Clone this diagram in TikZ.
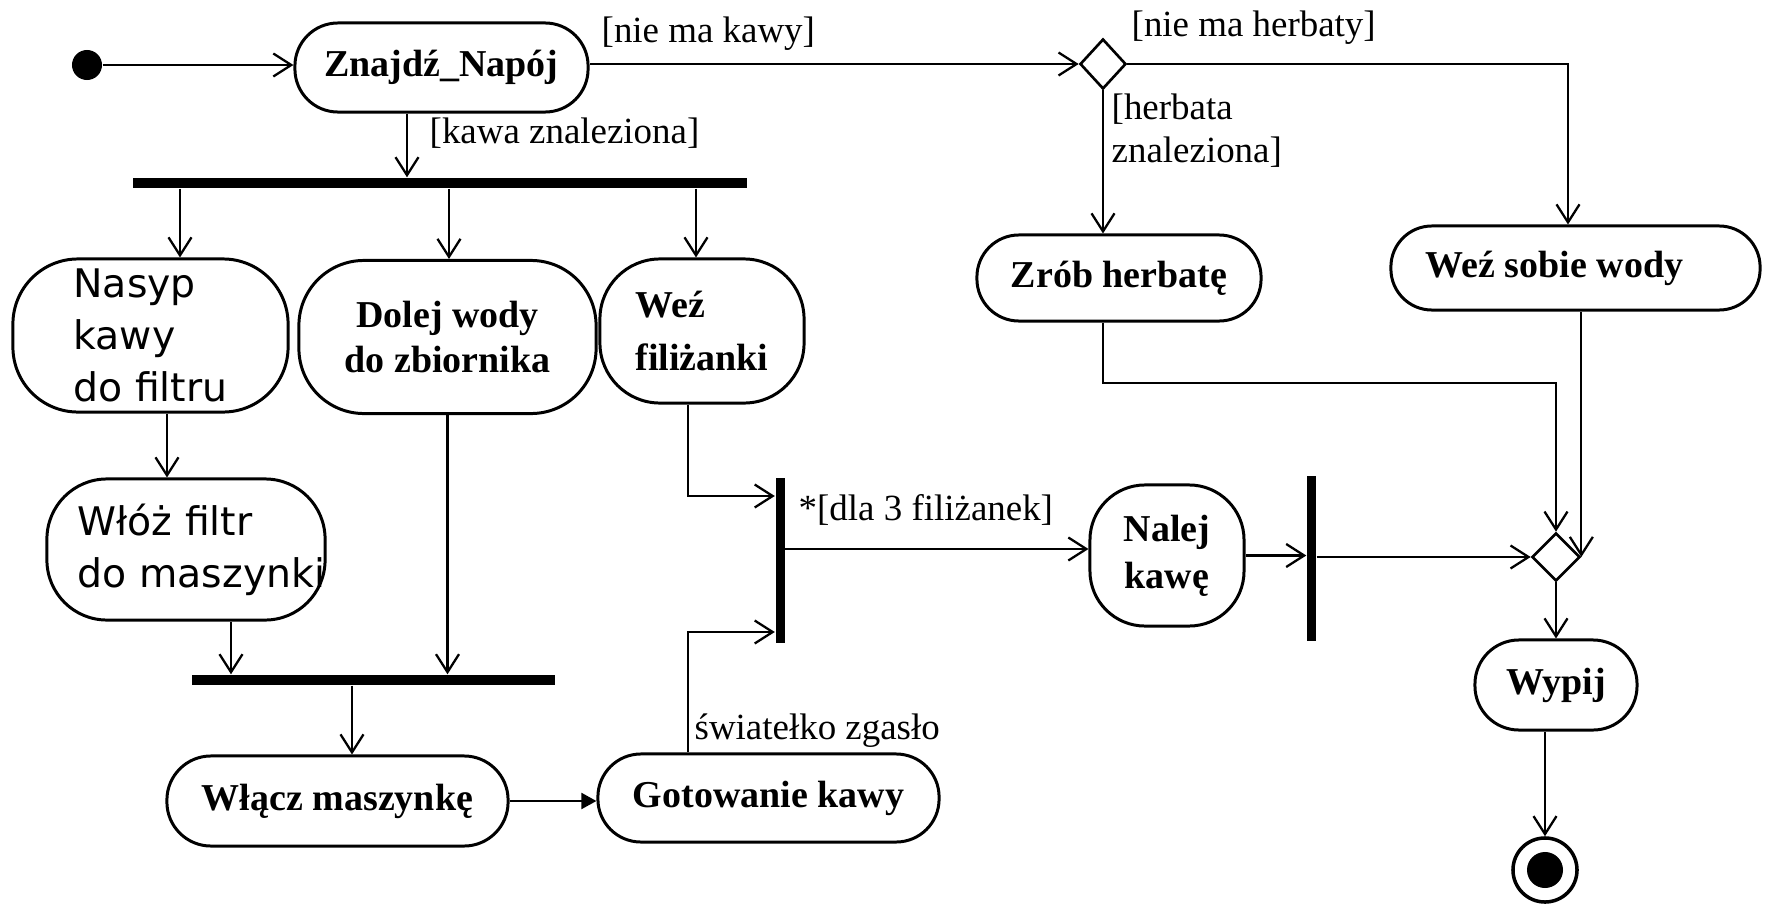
\documentclass[tikz,border=0pt]{standalone}
\usepackage{fontspec}
\setmainfont{Liberation Serif}
\newfontfamily\sansfont{DejaVu Sans}
\usetikzlibrary{arrows.meta,shapes.geometric}

\begin{document}
\begin{tikzpicture}[x=0.01cm,y=-0.01cm,
  act/.style={draw, line width=0.85pt, align=center, inner sep=0pt,
    font=\fontsize{10.8}{13}\selectfont\bfseries},
  sansact/.style={act, align=left, font=\sansfont\fontsize{11.2}{14.8}\selectfont},
  sanstext/.style={inner sep=0pt, align=left, font=\sansfont\fontsize{11.2}{14.8}\selectfont},
  guard/.style={inner sep=0pt, align=left, font=\fontsize{10.5}{12.2}\selectfont},
  bar/.style={fill=black, inner sep=0pt},
  decision/.style={draw, diamond, line width=0.75pt, inner sep=0pt},
  arr/.style={line width=0.6pt,
    -{Straight Barb[length=1.8mm,width=2.3mm,line width=0.65pt]}},
  farr/.style={line width=0.6pt, -{Triangle[length=1.5mm,width=1.6mm]}},
]
\useasboundingbox (0,0) rectangle (1769,909);

% start and end
\node[circle, fill=black, minimum size=0.3cm, inner sep=0pt] (start) at (87,65) {};
\node[circle, draw, line width=1pt, minimum size=0.64cm, inner sep=0pt] (end) at (1545,870) {};
\node[circle, fill=black, minimum size=0.36cm, inner sep=0pt] (enddot) at (end.center) {};

% activities
\node[act, rounded corners=4.3mm, minimum width=2.93cm, minimum height=0.89cm] (znajdz) at (441.5,67.5) {Znajdź\_Napój};
\node[act, rounded corners=4.2mm, minimum width=2.84cm, minimum height=0.86cm] (zrob) at (1119,278) {Zrób herbatę};
\node[act, rounded corners=4.1mm, minimum width=3.69cm, minimum height=0.84cm] (wez) at (1575.5,268) {\hspace*{-0.42cm}Weź sobie wody};
\node[sansact, rounded corners=6.5mm, minimum width=2.75cm, minimum height=1.53cm] (nasyp) at (150.5,335.5) {Nasyp\\kawy\\do filtru};
\node[act, rounded corners=6.5mm, minimum width=2.97cm, minimum height=1.53cm] (dolej) at (447.5,337) {Dolej wody\\do zbiornika};
\node[act, align=left, rounded corners=6mm, minimum width=2.04cm, minimum height=1.44cm,
  font=\fontsize{10.8}{15}\selectfont\bfseries] (filiz) at (702,331) {Weź\\filiżanki};
\node[act, rounded corners=6mm, minimum width=2.78cm, minimum height=1.41cm] (wloz) at (186,549.5) {};
\node[sanstext, anchor=west] (wloz-text) at (77,549.5) {Włóż filtr\\do maszynki};
\node[act, rounded corners=4.4mm, minimum width=3.41cm, minimum height=0.9cm] (wlacz) at (337.5,801) {Włącz maszynkę};
\node[act, rounded corners=4.3mm, minimum width=3.41cm, minimum height=0.88cm] (gotow) at (768.5,798) {Gotowanie kawy};
\node[act, rounded corners=5.5mm, minimum width=1.54cm, minimum height=1.41cm,
  font=\fontsize{10.8}{14.5}\selectfont\bfseries] (nalej) at (1167,555.5) {\raisebox{-0.06cm}{\shortstack{Nalej\\[0.02cm]kawę}}};
\node[act, rounded corners=4.4mm, minimum width=1.62cm, minimum height=0.9cm] (wypij) at (1556,685) {Wypij};

% decisions
\node[decision, minimum width=0.46cm, minimum height=0.5cm] (dec1) at (1103,64) {};
\node[decision, minimum width=0.48cm, minimum height=0.48cm] (dec2) at (1556,557) {};

% synchronisation bars
\node[bar, minimum width=6.14cm, minimum height=0.1cm] (bar1) at (440,183) {};
\node[bar, minimum width=3.63cm, minimum height=0.1cm] (bar2) at (373.5,680) {};
\node[bar, minimum width=0.09cm, minimum height=1.65cm] (join) at (780,560.5) {};
\node[bar, minimum width=0.09cm, minimum height=1.65cm] (bar3) at (1311.5,558.5) {};

% corner points of the routed flows
\coordinate (tcorner) at (1103,383);
\coordinate (g1) at (688,632);
\coordinate (f1) at (688,496);

% flows
\draw[arr] (start) -- (start -| znajdz.west);
\draw[arr] (znajdz.east |- dec1) -- (dec1.west);
\draw[arr] (dec1.east) -| (1568,0 |- wez.north);
\draw[arr] (dec1.south) -- (dec1.south |- zrob.north);
\draw[arr] (zrob.south -| tcorner) -- (tcorner) -| (dec2.north);
\draw[arr] (wez.south -| dec2.east) -- (dec2.east);
\draw[arr] (407,0 |- znajdz.south) -- (407,0 |- bar1.north);
\draw[arr] (180,0 |- bar1.south) -- (180,0 |- nasyp.north);
\draw[arr] (449,0 |- bar1.south) -- (449,0 |- dolej.north);
\draw[arr] (696,0 |- bar1.south) -- (696,0 |- filiz.north);
\draw[arr] (167,0 |- nasyp.south) -- (167,0 |- wloz.north);
\draw[arr] (231,0 |- wloz.south) -- (231,0 |- bar2.north);
\draw[arr] (dolej.south) -- (dolej.south |- bar2.north);
\draw[arr] (352,0 |- bar2.south) -- (352,0 |- wlacz.north);
\draw[farr] (wlacz.east) -- (wlacz.east -| gotow.west);
\draw[arr] (g1 |- gotow.north) -- (g1) -- (g1 -| join.west);
\draw[arr] (f1 |- filiz.south) -- (f1) -- (f1 -| join.west);
\draw[arr] (join.east |- 0,549) -- (nalej.west |- 0,549);
\draw[arr] (nalej.east) -- (nalej.east -| bar3.west);
\draw[arr] (bar3.east |- dec2) -- (dec2.west);
\draw[arr] (dec2.south) -- (dec2.south |- wypij.north);
\draw[arr] (end.north |- wypij.south) -- (end.north);

% guards and events
\node[guard, anchor=west] (g-kawa) at (601,34) {[nie ma kawy]};
\node[guard, anchor=west] (g-herbaty) at (1131,28) {[nie ma herbaty]};
\node[guard, anchor=west] (g-herbata) at (1111,131) {[herbata\\znaleziona]};
\node[guard, anchor=west] (g-znaleziona) at (429,133) {[kawa znaleziona]};
\node[guard, anchor=west] (g-dla) at (798,510) {*[dla 3 filiżanek]};
\node[guard, anchor=west] (g-swiatlo) at (694,731) {światełko zgasło};
\end{tikzpicture}
\end{document}
